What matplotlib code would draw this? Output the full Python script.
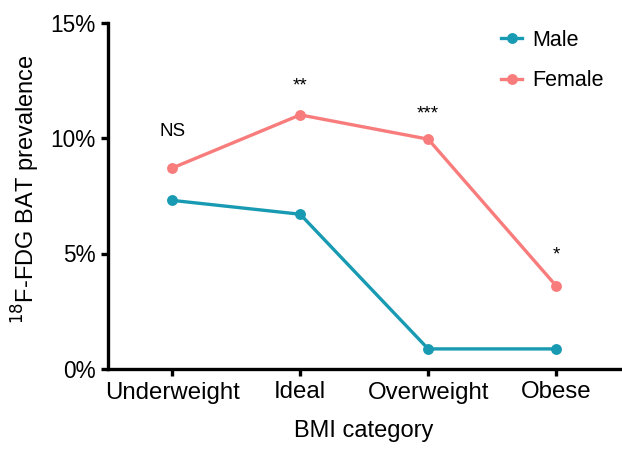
import matplotlib.pyplot as plt
from matplotlib.ticker import PercentFormatter

plt.rcParams['font.family'] = ['Liberation Sans', 'DejaVu Sans']

# BMI categories and prevalence (%)
categories = ['Underweight', 'Ideal', 'Overweight', 'Obese']
male = [7.3, 6.7, 0.87, 0.87]
female = [8.7, 11.0, 9.95, 3.6]
# significance labels and their heights (%)
sig_labels = ['NS', '**', '***', '*']
sig_y = [10.3, 12.25, 11.05, 4.95]

male_color = '#189bb2'
female_color = '#f87c7c'

fig = plt.figure(figsize=(6.22, 4.5), dpi=100)
ax = fig.add_axes([0.174, 0.18, 0.823, 0.77])

x = range(len(categories))
ax.plot(x, male, color=male_color, lw=2.4, marker='o', ms=6.8, label='Male')
ax.plot(x, female, color=female_color, lw=2.4, marker='o', ms=6.8, label='Female')

for i, (s, yy) in enumerate(zip(sig_labels, sig_y)):
    ax.text(i, yy, s, ha='center', va='center', fontsize=13.5)

ax.set_xlim(-0.5, 3.5)
ax.set_ylim(0, 15)
ax.set_xticks(list(x))
ax.set_xticklabels(categories)
ax.set_yticks([0, 5, 10, 15])
ax.yaxis.set_major_formatter(PercentFormatter(decimals=0))

for side in ['top', 'right']:
    ax.spines[side].set_visible(False)
for side in ['left', 'bottom']:
    ax.spines[side].set_linewidth(2.4)
ax.tick_params(axis='both', width=2.4, length=5, pad=4)
ax.tick_params(axis='x', labelsize=17.3)
ax.tick_params(axis='y', labelsize=16.3)

ax.set_xlabel('BMI category', fontsize=17, labelpad=12)
ax.set_ylabel('$^{18}$F-FDG BAT prevalence', fontsize=17)
ax.yaxis.set_label_coords(-0.13, 0.52)

ax.legend(loc='upper left', bbox_to_anchor=(0.73, 1.035), frameon=False,
          fontsize=15.5, handlelength=0.95, handletextpad=0.5, labelspacing=0.9)

fig.savefig('out.png', dpi=100)
